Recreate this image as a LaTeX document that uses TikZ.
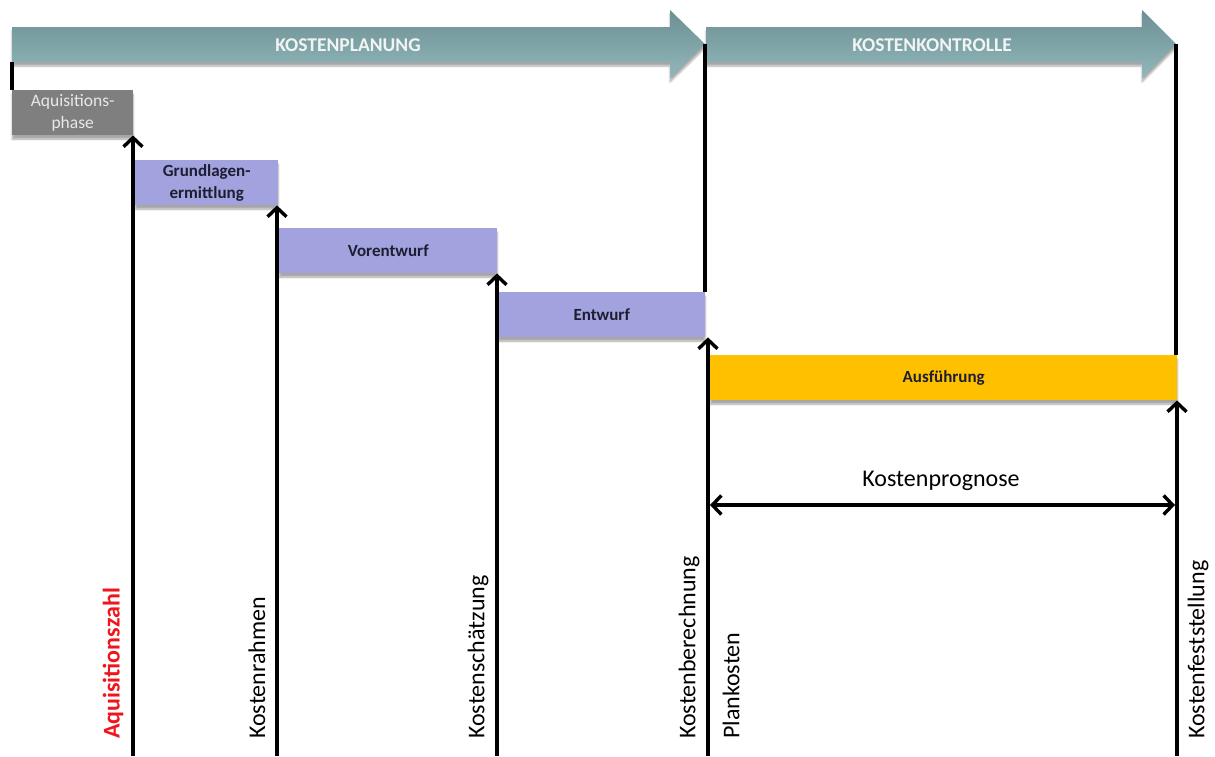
\documentclass[tikz,border=0pt]{standalone}
\usepackage{fontspec}
\setmainfont{Carlito}
\usetikzlibrary{arrows.meta,shadows.blur}

\definecolor{headtop}{RGB}{108,143,147}
\definecolor{headbot}{RGB}{145,184,187}
\definecolor{headtext}{RGB}{242,244,244}
\definecolor{phasegray}{RGB}{127,127,127}
\definecolor{phasetext}{RGB}{232,232,232}
\definecolor{lavender}{RGB}{162,162,222}
\definecolor{darktext}{RGB}{30,30,50}
\definecolor{execorange}{RGB}{255,192,0}
\definecolor{labelred}{RGB}{240,20,28}

\begin{document}
\begin{tikzpicture}[x=1pt,y=-1pt,
  softshadow/.style={blur shadow={shadow xshift=0pt,shadow yshift=-4pt,
      shadow blur steps=6,shadow opacity=35}},
  header/.style={top color=headtop,bottom color=headbot,draw=none,softshadow},
  headtxt/.style={text=headtext,font=\fontsize{19.5}{22}\selectfont\bfseries},
  phasebox/.style={anchor=north west,inner sep=0pt,minimum height=45pt,
      align=center,softshadow,
      font=\fontsize{17}{22}\selectfont\bfseries,text=darktext},
  divider/.style={line width=3.6pt,black},
  barb/.tip={Straight Barb[length=9pt,width=19pt,line width=3.4pt]},
  uparrow/.style={line width=3.4pt,-barb},
  spanarrow/.style={line width=3.4pt,barb-barb},
  vlabel/.style={rotate=90,anchor=west,inner sep=0pt,
      font=\fontsize{24}{28}\selectfont},
]
\useasboundingbox (0,0) rectangle (1215,756);

% phase arrows along the top
\path[header] (12,27) -- (670,27) -- (670,10) -- (705,44) -- (670,78)
  -- (670,62) -- (12,62) -- cycle;
\path[header] (706,27) -- (1142,27) -- (1142,10) -- (1176,44) -- (1142,78)
  -- (1142,62) -- (706,62) -- cycle;
\node[headtxt] (plan) at (348,45) {KOSTENPLANUNG};
\node[headtxt] (ctrl) at (932,45) {KOSTENKONTROLLE};

\coordinate (planstart) at (12,62);
\coordinate (plantip) at (705,44);
\coordinate (ctrltip) at (1176,44);

% project phases
\node[phasebox,fill=phasegray,minimum width=121pt,text=phasetext,
  font=\fontsize{17.5}{22}\selectfont] (aquis) at (12,90) {Aquisitions-\\phase};
\node[phasebox,fill=lavender,minimum width=143pt] (grund) at (135,160)
  {Grundlagen-\\ermittlung};
\node[phasebox,fill=lavender,minimum width=218pt] (vorent) at (279,228) {Vorentwurf};
\node[phasebox,fill=lavender,minimum width=207pt] (entw) at (498,292) {Entwurf};
\node[phasebox,fill=execorange,minimum width=467pt] (ausf) at (710,355) {Ausführung};

% section dividers
\draw[line width=4.5pt] (planstart) -- (aquis.north west);
\draw[divider] (plantip) -- (plantip |- entw.north);
\draw[divider] (ctrltip) -- (ctrltip |- ausf.north);

% cost milestones rising from the bottom
\coordinate (m1) at (133,756);
\coordinate (m2) at (277,756);
\coordinate (m3) at (497,756);
\coordinate (m4) at (708,756);
\coordinate (m5) at (1177,756);
\draw[uparrow] (m1) -- (m1 |- aquis.south);
\draw[uparrow] (m2) -- (m2 |- grund.south);
\draw[uparrow] (m3) -- (m3 |- vorent.south);
\draw[uparrow] (m4) -- (m4 |- entw.south);
\draw[uparrow] (m5) -- (m5 |- ausf.south);

\node[vlabel,text=labelred,font=\fontsize{24}{28}\selectfont\bfseries]
  (l1) at (113,739) {Aquisitionszahl};
\node[vlabel] (l2) at (257,739) {Kostenrahmen};
\node[vlabel] (l3) at (478,739) {Kostenschätzung};
\node[vlabel] (l4) at (689,739) {Kostenberechnung};
\node[vlabel] (l5) at (731,739) {Plankosten};
\node[vlabel] (l6) at (1198,739) {Kostenfeststellung};

% forecast span
\coordinate (pa) at (710,505);
\coordinate (pb) at (1175,505);
\draw[spanarrow] (pa) -- (pb);
\node[font=\fontsize{24}{28}\selectfont] (prog) at (941,481) {Kostenprognose};
\end{tikzpicture}
\end{document}
